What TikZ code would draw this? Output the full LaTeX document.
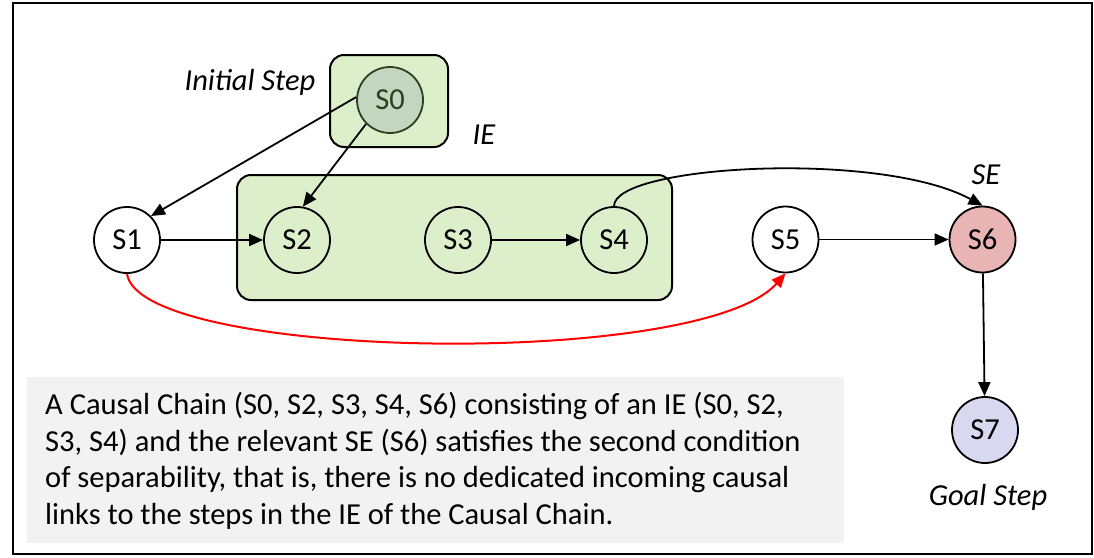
\documentclass[tikz,border=0pt]{standalone}
\usepackage{fontspec}
\setmainfont{Carlito}
\usetikzlibrary{arrows.meta}
\definecolor{groupgreen}{HTML}{DDEECB}
\definecolor{initfill}{HTML}{C3D6C0}
\definecolor{initline}{HTML}{2F3F22}
\definecolor{sefill}{HTML}{E8B4B4}
\definecolor{goalfill}{HTML}{D8D8F0}
\definecolor{notefill}{HTML}{F2F2F2}
\begin{document}
\begin{tikzpicture}[x=1pt,y=-1pt,
  stepnode/.style={circle,draw,line width=1.8pt,minimum size=66pt,inner sep=0pt,
    font=\fontsize{30.5}{36}\selectfont},
  group/.style={draw,line width=2pt,rounded corners=14pt,fill=groupgreen,inner sep=0pt},
  link/.style={-{Triangle[length=14pt,width=12pt]},line width=1.8pt},
  tag/.style={font=\fontsize{30.5}{36}\selectfont\itshape,inner sep=0pt}]
\useasboundingbox (0,0) rectangle (1094,557);
\draw[line width=2.2pt] (13,3) rectangle (1092,554);

% grouping boxes
\node[group,minimum width=118pt,minimum height=92pt] (initbox) at (389,101) {};
\node[group,minimum width=435pt,minimum height=125pt] (iebox) at (454.5,237.5) {};

% steps
\node[stepnode,fill=initfill,draw=initline,text=initline] (s0) at (390,100) {S0};
\node[stepnode,fill=white] (s1) at (127,240) {S1};
\node[stepnode] (s2) at (297,240) {S2};
\node[stepnode] (s3) at (458,240) {S3};
\node[stepnode] (s4) at (614,240) {S4};
\node[stepnode,fill=white] (s5) at (785.5,239.5) {S5};
\node[stepnode,fill=sefill] (s6) at (982.5,239.5) {S6};
\node[stepnode,fill=goalfill] (s7) at (985,430) {S7};

% labels
\node[tag] (lblinit) at (250,82) {Initial Step};
\node[tag] (lblie) at (484,135) {IE};
\node[tag] (lblse) at (986,175) {SE};
\node[tag] (lblgoal) at (988,497) {Goal Step};

% causal links
\draw[link] (s0.175) -- (s1.45);
\draw[link] (s0.225) -- (s2.80);
\draw[link] (s1) -- (s2);
\draw[link] (s3) -- (s4);
\draw[link] (s5) -- (s6);
\draw[link] (s6) -- (s7);
\draw[link] (s4.north) .. controls (614,165) and (880,150) .. (s6.north);
\draw[link,red,line width=2pt] (s1.south) .. controls (140,360) and (700,370) .. (s5.south);

% explanation
\node[fill=notefill,minimum width=817pt,minimum height=166pt,inner sep=0pt] (notebox) at (435.5,460) {};
\node[anchor=north west,align=left,inner sep=0pt,font=\fontsize{30.5}{36.7}\selectfont] (note) at (45,392)
  {A Causal Chain (S0, S2, S3, S4, S6) consisting of an IE (S0, S2,\\
   S3, S4) and the relevant SE (S6) satisfies the second condition\\
   of separability, that is, there is no dedicated incoming causal\\
   links to the steps in the IE of the Causal Chain.};
\end{tikzpicture}
\end{document}
